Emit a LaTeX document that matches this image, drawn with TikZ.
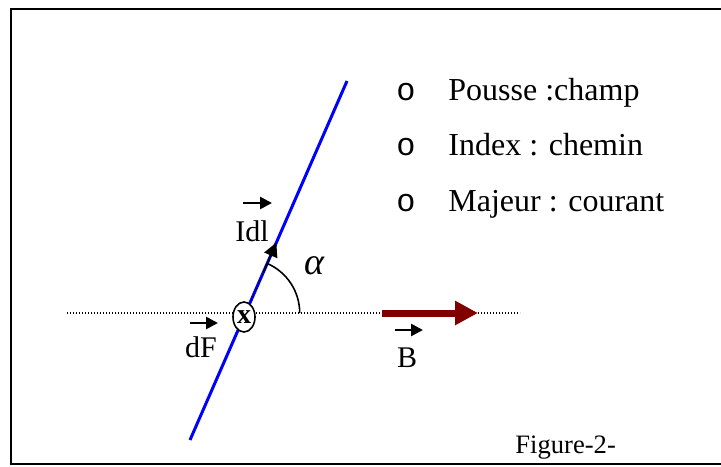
\documentclass[tikz,border=0pt]{standalone}
\usepackage{fontspec}
\setmainfont{Liberation Serif}
\newfontfamily\bulletfont{Liberation Mono}
\usetikzlibrary{arrows.meta,shapes.geometric,calc}

\tikzset{
  dotline/.style={line width=0.6pt, dash pattern=on 0.6pt off 0.9pt},
  vecarrow/.style={-{Triangle[length=6pt,width=6pt]}, line width=1.3pt},
  lbl/.style={font=\fontsize{15}{17}\selectfont, anchor=base, inner sep=0pt},
  item/.style={font=\fontsize{16}{18}\selectfont, anchor=base west, inner sep=0pt},
}

\begin{document}
\begin{tikzpicture}[x=0.5pt, y=0.5pt]
  \useasboundingbox (0,0) rectangle (721,466);

  % frame
  \draw[line width=1pt] (11,2) rectangle (730,457);

  % horizontal axis
  \draw[dotline] (67,153) -- (520,153);

  % wire
  \coordinate (bot) at (190,26);
  \coordinate (top) at (347,385);
  \draw[blue, line width=1.5pt] (bot) -- (top);
  \draw[dotline] ($(bot)!0.39!(top)$) -- ($(bot)!0.49!(top)$);
  \draw[-{Triangle[length=7pt,width=7pt]}, line width=0.8pt] ($(bot)!0.47!(top)$) -- ($(bot)!0.55!(top)$);

  % current out of the page
  \node[draw, ellipse, fill=white, line width=0.8pt, inner sep=0pt,
        minimum width=11pt, minimum height=15pt,
        font=\fontsize{14}{14}\selectfont\bfseries] (cross) at (244,149) {x};

  % angle
  \draw[line width=0.8pt] (299.7,153) arc[start angle=0, end angle=66.3, radius=27pt];
  \node[font=\fontsize{19}{19}\selectfont\itshape, anchor=base, inner sep=0pt] (alpha) at (314,192) {α};

  % field
  \draw[-{Triangle[length=11.5pt,width=11.5pt]}, line width=3.5pt, color={rgb,255:red,128;green,0;blue,0}] (382,153) -- (478,153);

  % labels
  \node[lbl] (idl) at (252,225) {Idl};
  \draw[vecarrow] (243,263) -- (272,263);
  \node[lbl] (df) at (201,109) {dF};
  \draw[vecarrow] (190,143) -- (218,143);
  \node[lbl] (b) at (407,99) {B};
  \draw[vecarrow] (395,136) -- (423,136);

  % rule
  \node[item] (pouce) at (448,365) {Pousse :champ};
  \node[item] (index) at (448,310) {Index : chemin};
  \node[item] (majeur) at (448,254) {Majeur : courant};
  \foreach \yy in {365,310,254}
    \node[font=\fontsize{16}{18}\bulletfont, anchor=base, inner sep=0pt] at (406,\yy) {o};

  \node[font=\fontsize{13.3}{15}\selectfont, anchor=base west, inner sep=0pt] (fig) at (515,13) {Figure-2-};
\end{tikzpicture}
\end{document}
